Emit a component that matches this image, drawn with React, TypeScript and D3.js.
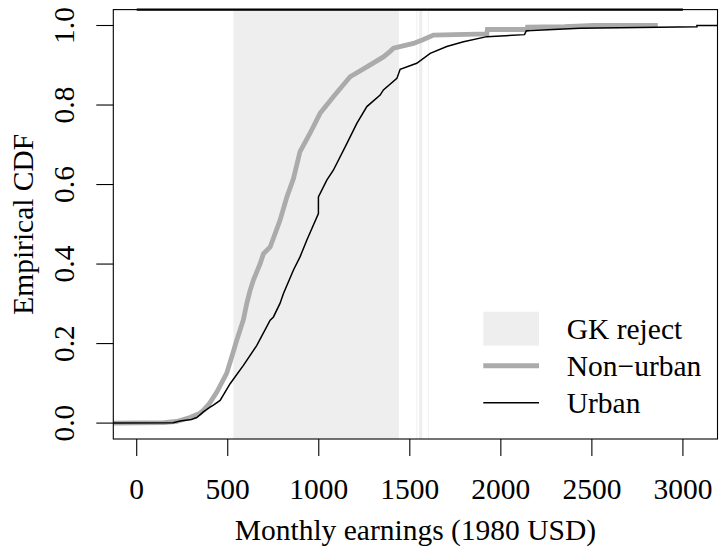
import React from "react";
import * as d3 from "d3";

// ---- data ----
const xTicks = [0, 500, 1000, 1500, 2000, 2500, 3000];
const yTicks = [0, 0.2, 0.4, 0.6, 0.8, 1.0];

const rejectLo = [531, 1536, 1551, 1599];
const rejectHi = [1440, 1541, 1569, 1604];

const nonUrbanEarnings = [-150, 150, 220, 293, 348, 366, 400, 440, 494, 531, 549, 586, 604, 623, 641, 678, 696, 733, 787, 825, 861, 897, 952, 1007, 1080, 1172, 1264, 1355, 1392, 1410, 1520, 1575, 1630, 1923, 1926, 2143, 2146, 2350, 2510, 2862];
const nonUrbanCdf = [0, 0.001, 0.004, 0.014, 0.025, 0.032, 0.05, 0.078, 0.125, 0.18, 0.208, 0.26, 0.3, 0.334, 0.36, 0.401, 0.426, 0.443, 0.51, 0.569, 0.615, 0.683, 0.729, 0.779, 0.821, 0.871, 0.896, 0.921, 0.935, 0.943, 0.955, 0.965, 0.976, 0.979, 0.99, 0.99, 0.996, 0.997, 1.0, 1.0];

const urbanEarnings = [-150, 200, 238, 300, 330, 366, 403, 421, 458, 513, 586, 659, 733, 751, 787, 806, 861, 897, 934, 998, 998, 1044, 1080, 1154, 1209, 1264, 1337, 1355, 1429, 1447, 1538, 1612, 1703, 1795, 1923, 2130, 2140, 2436, 3077, 3077, 3300];
const urbanCdf = [0, 0.001, 0.005, 0.009, 0.014, 0.028, 0.04, 0.045, 0.057, 0.099, 0.145, 0.195, 0.259, 0.267, 0.301, 0.326, 0.385, 0.418, 0.46, 0.527, 0.569, 0.611, 0.636, 0.703, 0.754, 0.796, 0.825, 0.838, 0.867, 0.89, 0.905, 0.93, 0.947, 0.959, 0.972, 0.977, 0.987, 0.993, 0.997, 1.0, 1.0];

const topSpan = [0, 3000];

const legendLabels = ["GK reject", "Non\u2212urban", "Urban"];
const xTitle = "Monthly earnings (1980 USD)";
const yTitle = "Empirical CDF";

// ---- layout ----
const W = 719;
const H = 547;
const left = 113.3;
const right = 717.5;
const top = 9.6;
const bottom = 439;
const FONT = '"Liberation Serif", "Times New Roman", Times, "DejaVu Serif", serif';
const FS = 29.5;
const SHADE = "#eeeeee";
const GRAY = "#ababab";
const txt = { fontFamily: FONT, fontSize: FS, fill: "#000" } as React.CSSProperties;

export default function App() {
  const x = d3.scaleLinear().domain([-128.6, 3190]).range([left, right]);
  const y = d3.scaleLinear().domain([-0.04, 1.04]).range([bottom, top]);

  const line = d3
    .line<[number, number]>()
    .x((d) => x(d[0]))
    .y((d) => y(d[1]))
    .curve(d3.curveLinear);

  const nonUrban = nonUrbanEarnings.map((v, i) => [v, nonUrbanCdf[i]] as [number, number]);
  const urban = urbanEarnings.map((v, i) => [v, urbanCdf[i]] as [number, number]);

  const legX = 483.3;
  const legW = 55.7;
  const legTextX = 566.7;
  const legRows = [328.7, 365.7, 402.7];

  return (
    <svg
      width={W}
      height={H}
      style={{ position: "fixed", left: 0, top: 0, display: "block", background: "#fff" }}
    >
      <defs>
        <clipPath id="plotclip">
          <rect x={left} y={top} width={right - left} height={bottom - top} />
        </clipPath>
      </defs>
      <g clipPath="url(#plotclip)">
        {rejectLo.map((lo, i) => (
          <rect
            key={i}
            x={x(lo)}
            y={top}
            width={x(rejectHi[i]) - x(lo)}
            height={bottom - top}
            fill={SHADE}
          />
        ))}
        <path d={line(nonUrban) || ""} fill="none" stroke={GRAY} strokeWidth={4.8} />
        <path d={line(urban) || ""} fill="none" stroke="#000" strokeWidth={1.5} />
      </g>
      {/* box */}
      <rect x={left} y={top} width={right - left} height={bottom - top} fill="none" stroke="#000" strokeWidth={1.1} />
      <line x1={x(topSpan[0])} x2={x(topSpan[1])} y1={top} y2={top} stroke="#000" strokeWidth={2.4} />

      {/* x axis */}
      {xTicks.map((t) => (
        <g key={t}>
          <line x1={x(t)} x2={x(t)} y1={bottom} y2={bottom + 17} stroke="#000" strokeWidth={1.1} />
          <text x={x(t)} y={498.5} textAnchor="middle" style={txt}>
            {t}
          </text>
        </g>
      ))}
      <text x={(left + right) / 2} y={540} textAnchor="middle" style={txt}>
        {xTitle}
      </text>

      {/* y axis */}
      {yTicks.map((t) => (
        <g key={t}>
          <line x1={left - 17} x2={left} y1={y(t)} y2={y(t)} stroke="#000" strokeWidth={1.1} />
          <text transform={`translate(${73.5},${y(t)}) rotate(-90)`} textAnchor="middle" style={txt}>
            {t.toFixed(1)}
          </text>
        </g>
      ))}
      <text transform={`translate(${33},${(top + bottom) / 2}) rotate(-90)`} textAnchor="middle" style={txt}>
        {yTitle}
      </text>

      {/* legend */}
      <rect x={legX} y={legRows[0] - 17} width={legW} height={34} fill={SHADE} />
      <line x1={legX} x2={legX + legW} y1={legRows[1]} y2={legRows[1]} stroke={GRAY} strokeWidth={5} />
      <line x1={legX} x2={legX + legW} y1={legRows[2]} y2={legRows[2]} stroke="#000" strokeWidth={1.5} />
      {legendLabels.map((l, i) => (
        <text key={l} x={legTextX} y={legRows[i] + 10.5} style={txt}>
          {l}
        </text>
      ))}
    </svg>
  );
}
